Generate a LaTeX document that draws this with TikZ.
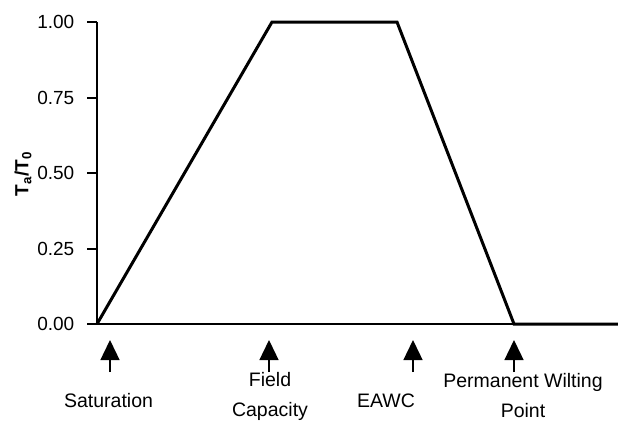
\documentclass[tikz,border=0pt]{standalone}
\usepackage{fontspec}
\setmainfont{Liberation Sans}
\usetikzlibrary{arrows.meta}
\begin{document}
\begin{tikzpicture}[x=1bp,y=-1bp,
  ticklab/.style={anchor=east,inner sep=0pt,font=\fontsize{19bp}{23bp}\selectfont},
  marklab/.style={align=center,inner sep=0pt,font=\fontsize{19.5bp}{30bp}\selectfont},
  axisline/.style={line width=2bp},
  curveline/.style={line width=3bp,line join=miter},
  markarrow/.style={line width=1.4bp,-{Triangle[width=19bp,length=20bp]}}]
\useasboundingbox (0,0) rectangle (618,426);
% axes
\coordinate (o) at (97,324);
\coordinate (ytop) at (97,22);
\coordinate (xend) at (618,324);
\draw[axisline] (ytop) -- (o) -- (xend);
% ticks and labels
\foreach \v/\y in {1.00/22,0.75/98,0.50/173,0.25/249,0.00/324}{
  \draw[axisline] (87,\y) -- (97,\y);
  \node[ticklab] at (74.5,\y) {\v};
}
\node[rotate=90,font=\bfseries\fontsize{19bp}{23bp}\selectfont,inner sep=0pt] (ylab) at (23,174) {T\textsubscript{a}/T\textsubscript{0}};
% curve
\coordinate (c1) at (97,324);
\coordinate (c2) at (272,22);
\coordinate (c3) at (397,22);
\coordinate (c4) at (514,324);
\coordinate (c5) at (618,324);
\draw[curveline] (c1) -- (c2) -- (c3) -- (c4) -- (c5);
% markers
\foreach \n/\x in {sat/110,fc/269,eawc/413,pwp/514}{
  \coordinate (\n b) at (\x,372);
  \coordinate (\n t) at (\x,340);
  \draw[markarrow] (\n b) -- (\n t);
}
\node[marklab] (satl) at (108.5,401) {Saturation};
\node[marklab] (fcl) at (270,396) {Field\\Capacity};
\node[marklab] (eawcl) at (386,401) {EAWC};
\node[marklab] (pwpl) at (523,396) {Permanent Wilting\\Point};
\end{tikzpicture}
\end{document}
